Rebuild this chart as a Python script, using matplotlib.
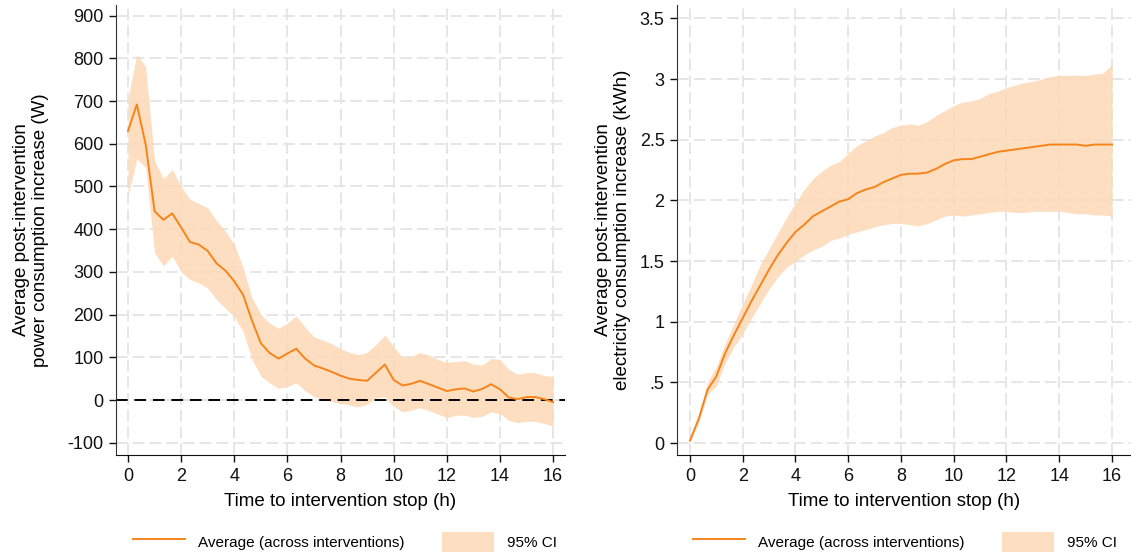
import numpy as np
import matplotlib
matplotlib.use("Agg")
import matplotlib.pyplot as plt
from matplotlib.lines import Line2D
from matplotlib.patches import Patch

plt.rcParams.update({
    "font.family": ["Liberation Sans", "DejaVu Sans"],
    "font.size": 13,
    "axes.unicode_minus": False,
})

LINE = "#f7841a"
BAND = "#fdd9b5"
GRID = "#e6e6e6"

# 20-minute steps after the intervention stop, 0..16 h
hours = np.arange(0, 961, 20) / 60.0

power_mean = [630, 692, 598, 442, 422, 437, 404, 370, 364, 349, 320, 303, 278,
              246, 186, 133, 110, 97, 109, 120, 97, 81, 74, 66, 57, 50, 47, 45,
              64, 83, 47, 34, 38, 45, 37, 29, 21, 25, 27, 20, 26, 37, 25, 6, 2,
              7, 7, 2, -5]
power_hi = [705, 810, 780, 560, 518, 540, 500, 470, 460, 450, 420, 395, 365,
            310, 240, 200, 180, 168, 180, 197, 170, 148, 140, 132, 120, 112,
            106, 112, 130, 152, 125, 99, 103, 111, 105, 95, 88, 90, 92, 84, 82,
            97, 95, 72, 60, 64, 64, 57, 55]
power_lo = [478, 565, 545, 345, 314, 337, 300, 282, 274, 262, 235, 215, 195,
            160, 96, 56, 40, 27, 32, 40, 22, 8, 2, -4, -8, -12, -16, -10, 5, 8,
            -15, -28, -24, -18, -25, -33, -41, -36, -35, -41, -38, -28, -32,
            -48, -53, -50, -50, -55, -61]

energy_mean = [0.02, 0.20, 0.44, 0.55, 0.74, 0.89, 1.03, 1.17, 1.30, 1.43,
               1.55, 1.65, 1.74, 1.80, 1.87, 1.91, 1.95, 1.99, 2.01, 2.06,
               2.09, 2.11, 2.15, 2.18, 2.21, 2.22, 2.22, 2.23, 2.26, 2.30,
               2.33, 2.34, 2.34, 2.36, 2.38, 2.40, 2.41, 2.42, 2.43, 2.44,
               2.45, 2.46, 2.46, 2.46, 2.46, 2.45, 2.46, 2.46, 2.46]
energy_hi = [0.03, 0.22, 0.50, 0.63, 0.82, 0.98, 1.15, 1.30, 1.47, 1.60, 1.73,
             1.86, 1.98, 2.09, 2.18, 2.24, 2.29, 2.32, 2.39, 2.45, 2.49, 2.53,
             2.56, 2.60, 2.62, 2.63, 2.62, 2.65, 2.70, 2.74, 2.78, 2.81, 2.82,
             2.84, 2.88, 2.90, 2.93, 2.95, 2.97, 2.98, 3.00, 3.02, 3.03, 3.03,
             3.03, 3.03, 3.04, 3.05, 3.12]
energy_lo = [0.01, 0.17, 0.40, 0.47, 0.66, 0.79, 0.90, 1.03, 1.15, 1.27, 1.37,
             1.45, 1.50, 1.55, 1.59, 1.62, 1.67, 1.69, 1.72, 1.74, 1.76, 1.78,
             1.80, 1.81, 1.81, 1.80, 1.79, 1.81, 1.84, 1.87, 1.88, 1.87, 1.88,
             1.89, 1.90, 1.91, 1.91, 1.90, 1.90, 1.91, 1.91, 1.91, 1.91, 1.90,
             1.89, 1.89, 1.88, 1.88, 1.87]

x_ticks = [0, 2, 4, 6, 8, 10, 12, 14, 16]
power_ticks = [-100, 0, 100, 200, 300, 400, 500, 600, 700, 800, 900]
energy_ticks = [0, 0.5, 1, 1.5, 2, 2.5, 3, 3.5]
energy_labels = ["0", ".5", "1", "1.5", "2", "2.5", "3", "3.5"]

fig = plt.figure(figsize=(11.31, 5.55), dpi=100)
ax1 = fig.add_axes([0.1026, 0.18, 0.397, 0.811])
ax2 = fig.add_axes([0.5986, 0.18, 0.4014, 0.811])


def style(ax):
    for s in ("top", "right"):
        ax.spines[s].set_visible(False)
    ax.spines["left"].set_color("#333333")
    ax.spines["bottom"].set_color("#111111")
    ax.grid(True, color=GRID, lw=1.4, ls=(0, (6, 2.6)), zorder=0)
    ax.set_axisbelow(True)
    ax.tick_params(length=5, width=1, pad=4, labelsize=13, colors="#111111")
    ax.set_xticks(x_ticks)
    ax.set_xlabel("Time to intervention stop (h)", fontsize=13.5, labelpad=6)


# power panel
ax1.fill_between(hours, power_lo, power_hi, color=BAND, alpha=0.85, lw=0, zorder=1)
ax1.axhline(0, color="black", lw=1.4, ls=(0, (6, 3.5)), zorder=2)
ax1.plot(hours, power_mean, color=LINE, lw=1.4, zorder=3)
style(ax1)
ax1.set_yticks(power_ticks)
ax1.set_xlim(-0.45, 16.45)
ax1.set_ylim(-129, 925)
ax1.set_ylabel("Average post-intervention\npower consumption increase (W)",
               fontsize=13.5, labelpad=13)

# energy panel
ax2.fill_between(hours, energy_lo, energy_hi, color=BAND, alpha=0.85, lw=0, zorder=1)
ax2.plot(hours, energy_mean, color=LINE, lw=1.4, zorder=3)
style(ax2)
ax2.set_yticks(energy_ticks)
ax2.set_yticklabels(energy_labels)
ax2.set_xlim(-0.49, 16.72)
ax2.set_ylim(-0.099, 3.61)
ax2.set_ylabel("Average post-intervention\nelectricity consumption increase (kWh)",
               fontsize=13.5, labelpad=6)

handles = [Line2D([], [], color=LINE, lw=1.4),
           Patch(facecolor=BAND, alpha=0.85, lw=0)]
labels = ["Average (across interventions)", "95% CI"]
for ax, cx in ((ax1, 345 / 1131), (ax2, 905 / 1131)):
    ax.legend(handles, labels, loc="center", bbox_to_anchor=(cx, 13 / 555),
              bbox_transform=fig.transFigure, ncol=2, frameon=False,
              handlelength=3.4, handleheight=1.7, columnspacing=2.4,
              handletextpad=0.9,
              prop={"family": ["Liberation Sans Narrow", "Liberation Sans"], "size": 11})

fig.savefig("out.png", dpi=100)
